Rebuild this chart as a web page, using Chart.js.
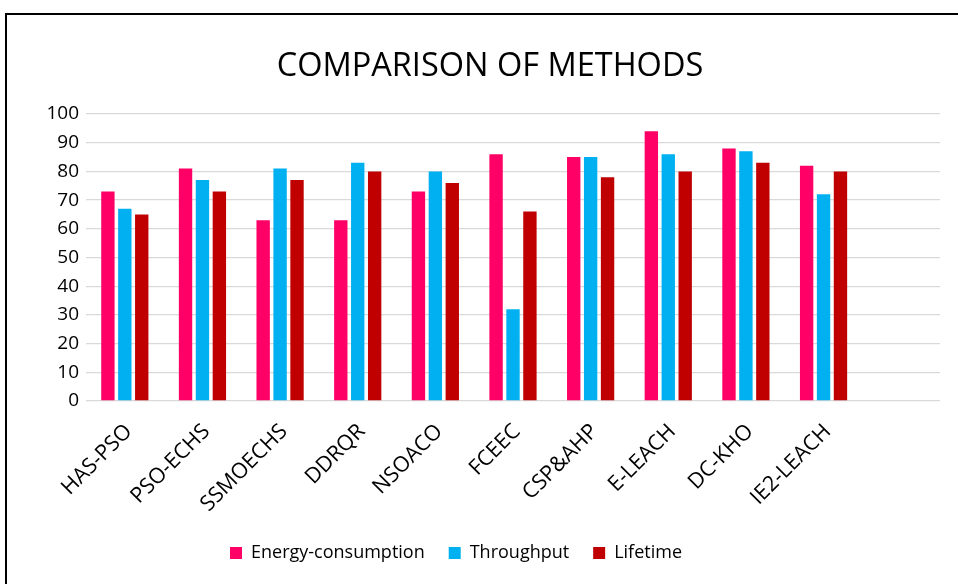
<!DOCTYPE html>
<html lang="en">
<head>
  <meta charset="UTF-8">
  <title>Comparison of methods</title>
  <script src="https://cdn.jsdelivr.net/npm/chart.js"></script>
  <style>
    body {
      margin: 0;
      background: #fff;
      overflow: hidden;
      width: 958px;
      height: 584px;
      position: relative;
      font-family: 'Open Sans', sans-serif;
    }

    .frame {
      position: absolute;
      left: 5px;
      top: 13px;
      width: 1000px;
      height: 700px;
      border-left: 2px solid #000;
      border-top: 2px solid #000;
    }

    #wrap {
      position: absolute;
      left: 0;
      top: 0;
      width: 958px;
      height: 584px;
    }
  </style>
</head>
<body>
  <div class="frame"></div>
  <div id="wrap">
    <canvas id="methodsChart" width="958" height="584"></canvas>
  </div>

  <script>
    // categories (last slot is empty in the original chart)
    const methods = ['HAS-PSO', 'PSO-ECHS', 'SSMOECHS', 'DDRQR', 'NSOACO', 'FCEEC', 'CSP&AHP', 'E-LEACH', 'DC-KHO', 'IE2-LEACH', ''];
    const energyConsumption = [73, 81, 63, 63, 73, 86, 85, 94, 88, 82, null];
    const throughput = [67, 77, 81, 83, 80, 32, 85, 86, 87, 72, null];
    const lifetime = [65, 73, 77, 80, 76, 66, 78, 80, 83, 80, null];
    const yTicks = [0, 10, 20, 30, 40, 50, 60, 70, 80, 90, 100];

    const font = "'Open Sans', sans-serif";

    // the original centres the title and the legend a bit off the canvas middle
    const nudgeBlocks = {
      id: 'nudgeBlocks',
      afterLayout(chart) {
        chart.titleBlock.left += 20;
        chart.titleBlock.right += 20;
        chart.legend.left -= 14;
        chart.legend.right -= 14;
      }
    };

    new Chart(document.getElementById('methodsChart'), {
      type: 'bar',
      data: {
        labels: methods,
        datasets: [
          { label: 'Energy-consumption', data: energyConsumption, backgroundColor: '#FF0066' },
          { label: 'Throughput', data: throughput, backgroundColor: '#00B0F0' },
          { label: 'Lifetime', data: lifetime, backgroundColor: '#C00000' }
        ]
      },
      options: {
        responsive: false,
        animation: false,
        events: [],
        categoryPercentage: 0.654,
        barPercentage: 0.79,
        layout: { padding: { left: 0, right: 18, top: 0, bottom: 12 } },
        plugins: {
          title: {
            display: true,
            text: 'COMPARISON OF METHODS',
            color: '#000',
            font: { family: font, size: 32.5, weight: 'normal' },
            padding: { top: 47, bottom: 28 }
          },
          legend: {
            position: 'bottom',
            labels: {
              color: '#000',
              boxWidth: 12,
              boxHeight: 12,
              padding: 24,
              font: { family: font, size: 18 }
            }
          },
          tooltip: { enabled: false }
        },
        scales: {
          x: {
            grid: { display: false },
            border: { display: false },
            ticks: {
              color: '#000',
              font: { family: font, size: 21.5 },
              autoSkip: false,
              maxRotation: 45,
              minRotation: 45,
              labelOffset: 4,
              padding: 10
            },
            afterFit: scale => { scale.height = 119; }
          },
          y: {
            min: 0,
            max: 100,
            grid: { color: '#D9D9D9', lineWidth: 1.3, drawTicks: false },
            border: { display: false },
            afterBuildTicks: scale => { scale.ticks = yTicks.map(v => ({ value: v })); },
            ticks: {
              color: '#000',
              font: { family: font, size: 19 },
              padding: 7
            },
            afterFit: scale => { scale.width = 86; }
          }
        }
      },
      plugins: [nudgeBlocks]
    });
  </script>
</body>
</html>
